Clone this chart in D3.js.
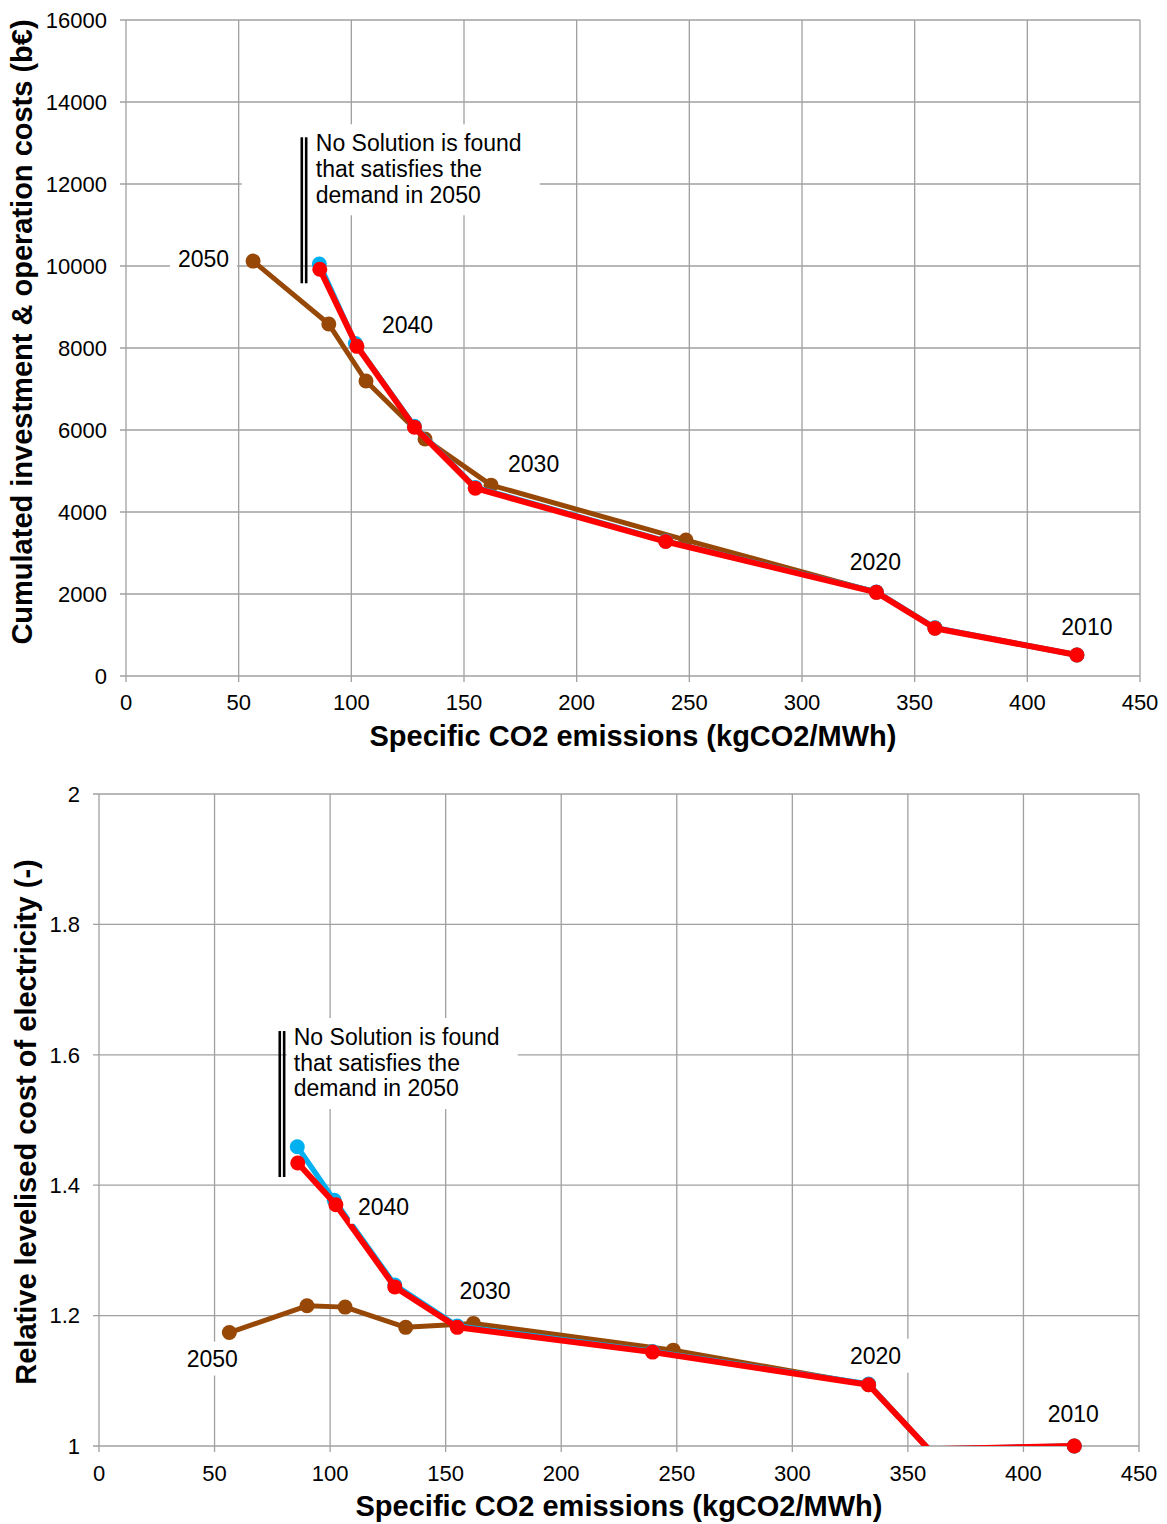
<!DOCTYPE html>
<html>
<head>
<meta charset="utf-8">
<script src="https://cdn.jsdelivr.net/npm/d3@7"></script>
<style>
  body { margin: 0; background: #fff; }
  svg { display: block; font-family: "Liberation Sans", Arial, sans-serif; }
</style>
</head>
<body>
<svg id="chart" width="1167" height="1524"></svg>
<script>
// CO2 intensity of each scenario step (kgCO2/MWh)
const co2Red   = [86, 102.5, 128, 155, 239.5, 333, 359, 422];
const co2Blue  = [85.8, 101.8, 128, 155, 239.5, 333, 359, 422];
const co2Brown = [56.4, 90, 106.5, 132.7, 162, 248.5, 333, 359, 422];

// cumulated investment & operation costs (b€)
const costRed   = [9920, 8040, 6070, 4580, 3280, 2040, 1165, 512];
const costBlue  = [10050, 8110, 6090, 4600, 3290, 2050, 1175, 512];
const costBrown = [10120, 8585, 7195, 5780, 4655, 3315, 2045, 1168, 512];

// relative levelised cost of electricity (-)
const lcoeRed   = [1.434, 1.370, 1.244, 1.182, 1.144, 1.094, 0.995, 1.0];
const lcoeBlue  = [1.459, 1.377, 1.247, 1.184, 1.145, 1.095, 0.995, 1.0];
const lcoeBrown = [1.174, 1.215, 1.213, 1.182, 1.188, 1.147, 1.094, 0.995, 1.0];

const xTicks = [0, 50, 100, 150, 200, 250, 300, 350, 400, 450];
const costTicks = [0, 2000, 4000, 6000, 8000, 10000, 12000, 14000, 16000];
const lcoeTicks = [1, 1.2, 1.4, 1.6, 1.8, 2];

const xTitle = "Specific CO2 emissions (kgCO2/MWh)";
const noSolution = ["No Solution is found", "that satisfies the", "demand in 2050"];

const BROWN = "#974806", RED = "#ff0000", BLUE = "#00b0f0", GRID = "#a0a0a0";

const svg = d3.select("#chart");

function drawChart(o) {
  const x = d3.scaleLinear().domain([0, 450]).range([o.left, o.right]);
  const y = d3.scaleLinear().domain(o.yDomain).range([o.bottom, o.top]);
  const g = svg.append("g");

  // grid + outward ticks
  g.selectAll(".vg").data(xTicks).enter().append("line")
    .attr("x1", d => x(d)).attr("x2", d => x(d))
    .attr("y1", o.top).attr("y2", o.bottom + 6)
    .attr("stroke", GRID).attr("stroke-width", 1.3);
  g.selectAll(".hg").data(o.yTicks).enter().append("line")
    .attr("x1", o.left - 6).attr("x2", o.right)
    .attr("y1", d => y(d)).attr("y2", d => y(d))
    .attr("stroke", GRID).attr("stroke-width", 1.3);

  // tick labels
  g.selectAll(".xl").data(xTicks).enter().append("text")
    .attr("x", d => x(d)).attr("y", o.bottom + o.xLabOff)
    .attr("text-anchor", "middle").attr("dy", "0.35em")
    .attr("font-size", 22).text(d => d);
  g.selectAll(".yl").data(o.yTicks).enter().append("text")
    .attr("x", o.left - 19).attr("y", d => y(d))
    .attr("text-anchor", "end").attr("dy", "0.35em")
    .attr("font-size", 22).text(o.fmt);

  // axis titles
  g.append("text").attr("x", o.xTitleX).attr("y", o.xTitleY)
    .attr("text-anchor", "middle").attr("font-weight", "bold")
    .attr("font-size", 29).text(xTitle);
  g.append("text")
    .attr("transform", `translate(${o.yTitleX},${o.yTitleY}) rotate(-90)`)
    .attr("text-anchor", "middle").attr("font-weight", "bold")
    .attr("font-size", 29).text(o.yTitle);

  // "no solution" note, anchored on first red point
  const ax = x(co2Red[0]), ay = y(o.red[0]);
  g.append("rect").attr("x", ax - o.boxLeft).attr("y", ay - 145)
    .attr("width", o.boxLeft + 220).attr("height", 91).attr("fill", "#fff");
  [-18, -13.6].forEach(dx => {
    g.append("line").attr("x1", ax + dx).attr("x2", ax + dx)
      .attr("y1", ay - 132).attr("y2", ay + 14)
      .attr("stroke", "#000").attr("stroke-width", 2.6);
  });
  g.selectAll(".ns").data(noSolution).enter().append("text")
    .attr("x", ax - 4).attr("y", (d, i) => ay - 118 + i * 25.7)
    .attr("font-size", 23).text(d => d);

  // year labels with white backing
  const labG = g.append("g");
  o.labels.forEach(l => {
    const px = x(l.s.x[l.i]), py = y(l.s.y[l.i]);
    const t = labG.append("text").attr("x", px + l.dx).attr("y", py + l.dy)
      .attr("text-anchor", l.anchor).attr("font-size", 23).text(l.text);
    const b = t.node().getBBox();
    labG.insert("rect", "text").attr("x", b.x - 8).attr("y", b.y - 4)
      .attr("width", b.width + 16).attr("height", b.height + 8).attr("fill", "#fff");
  });

  // series
  const clipId = "clip" + o.top;
  svg.append("clipPath").attr("id", clipId).append("rect")
    .attr("x", o.left).attr("y", o.top - 10)
    .attr("width", o.right - o.left + 10).attr("height", o.bottom - o.top + 10);
  const series = [
    { x: co2Brown, y: o.brown, c: BROWN, w: 5, r: 7.5 },
    { x: co2Blue, y: o.blue, c: BLUE, w: 5.5, r: 7.5 },
    { x: co2Red, y: o.red, c: RED, w: 6, r: 7.5 }
  ];
  const line = d3.line().x(d => x(d[0])).y(d => y(d[1]));
  series.forEach(s => {
    const pts = s.x.map((v, i) => [v, s.y[i]]);
    g.append("path").datum(pts).attr("d", line)
      .attr("clip-path", `url(#${clipId})`)
      .attr("fill", "none").attr("stroke", s.c).attr("stroke-width", s.w)
      .attr("stroke-linejoin", "round");
    g.selectAll(null).data(pts.filter(p => p[1] >= o.yDomain[0])).enter().append("circle")
      .attr("cx", d => x(d[0])).attr("cy", d => y(d[1])).attr("r", s.r)
      .attr("fill", s.c);
  });
  labG.raise();
}

const sRed = (yv) => ({ x: co2Red, y: yv });
const sBrown = (yv) => ({ x: co2Brown, y: yv });

drawChart({
  left: 126, right: 1140, top: 20, bottom: 676,
  yDomain: [0, 16000], yTicks: costTicks, fmt: d => d,
  red: costRed, blue: costBlue, brown: costBrown,
  xLabOff: 26, xTitleX: 633, xTitleY: 746,
  yTitleX: 32, yTitleY: 332,
  yTitle: "Cumulated investment & operation costs (b€)",
  boxLeft: 78,
  labels: [
    { s: sBrown(costBrown), i: 0, dx: -24, dy: 6, anchor: "end", text: "2050" },
    { s: sRed(costRed), i: 1, dx: 25, dy: -13, anchor: "start", text: "2040" },
    { s: sBrown(costBrown), i: 4, dx: 17, dy: -13, anchor: "start", text: "2030" },
    { s: sRed(costRed), i: 5, dx: -1, dy: -22, anchor: "middle", text: "2020" },
    { s: sRed(costRed), i: 7, dx: 10, dy: -20, anchor: "middle", text: "2010" }
  ]
});

drawChart({
  left: 99, right: 1139, top: 794, bottom: 1446,
  yDomain: [1, 2], yTicks: lcoeTicks, fmt: d => String(+d.toFixed(1)),
  red: lcoeRed, blue: lcoeBlue, brown: lcoeBrown,
  xLabOff: 27, xTitleX: 619, xTitleY: 1516,
  yTitleX: 36, yTitleY: 1122,
  yTitle: "Relative levelised cost of electricity (-)",
  boxLeft: 11,
  labels: [
    { s: sBrown(lcoeBrown), i: 0, dx: -17, dy: 34, anchor: "middle", text: "2050" },
    { s: sRed(lcoeRed), i: 1, dx: 22, dy: 10, anchor: "start", text: "2040" },
    { s: sBrown(lcoeBrown), i: 4, dx: -14, dy: -24, anchor: "start", text: "2030" },
    { s: sRed(lcoeRed), i: 5, dx: 7, dy: -21, anchor: "middle", text: "2020" },
    { s: sRed(lcoeRed), i: 7, dx: -1, dy: -24, anchor: "middle", text: "2010" }
  ]
});
</script>
</body>
</html>
